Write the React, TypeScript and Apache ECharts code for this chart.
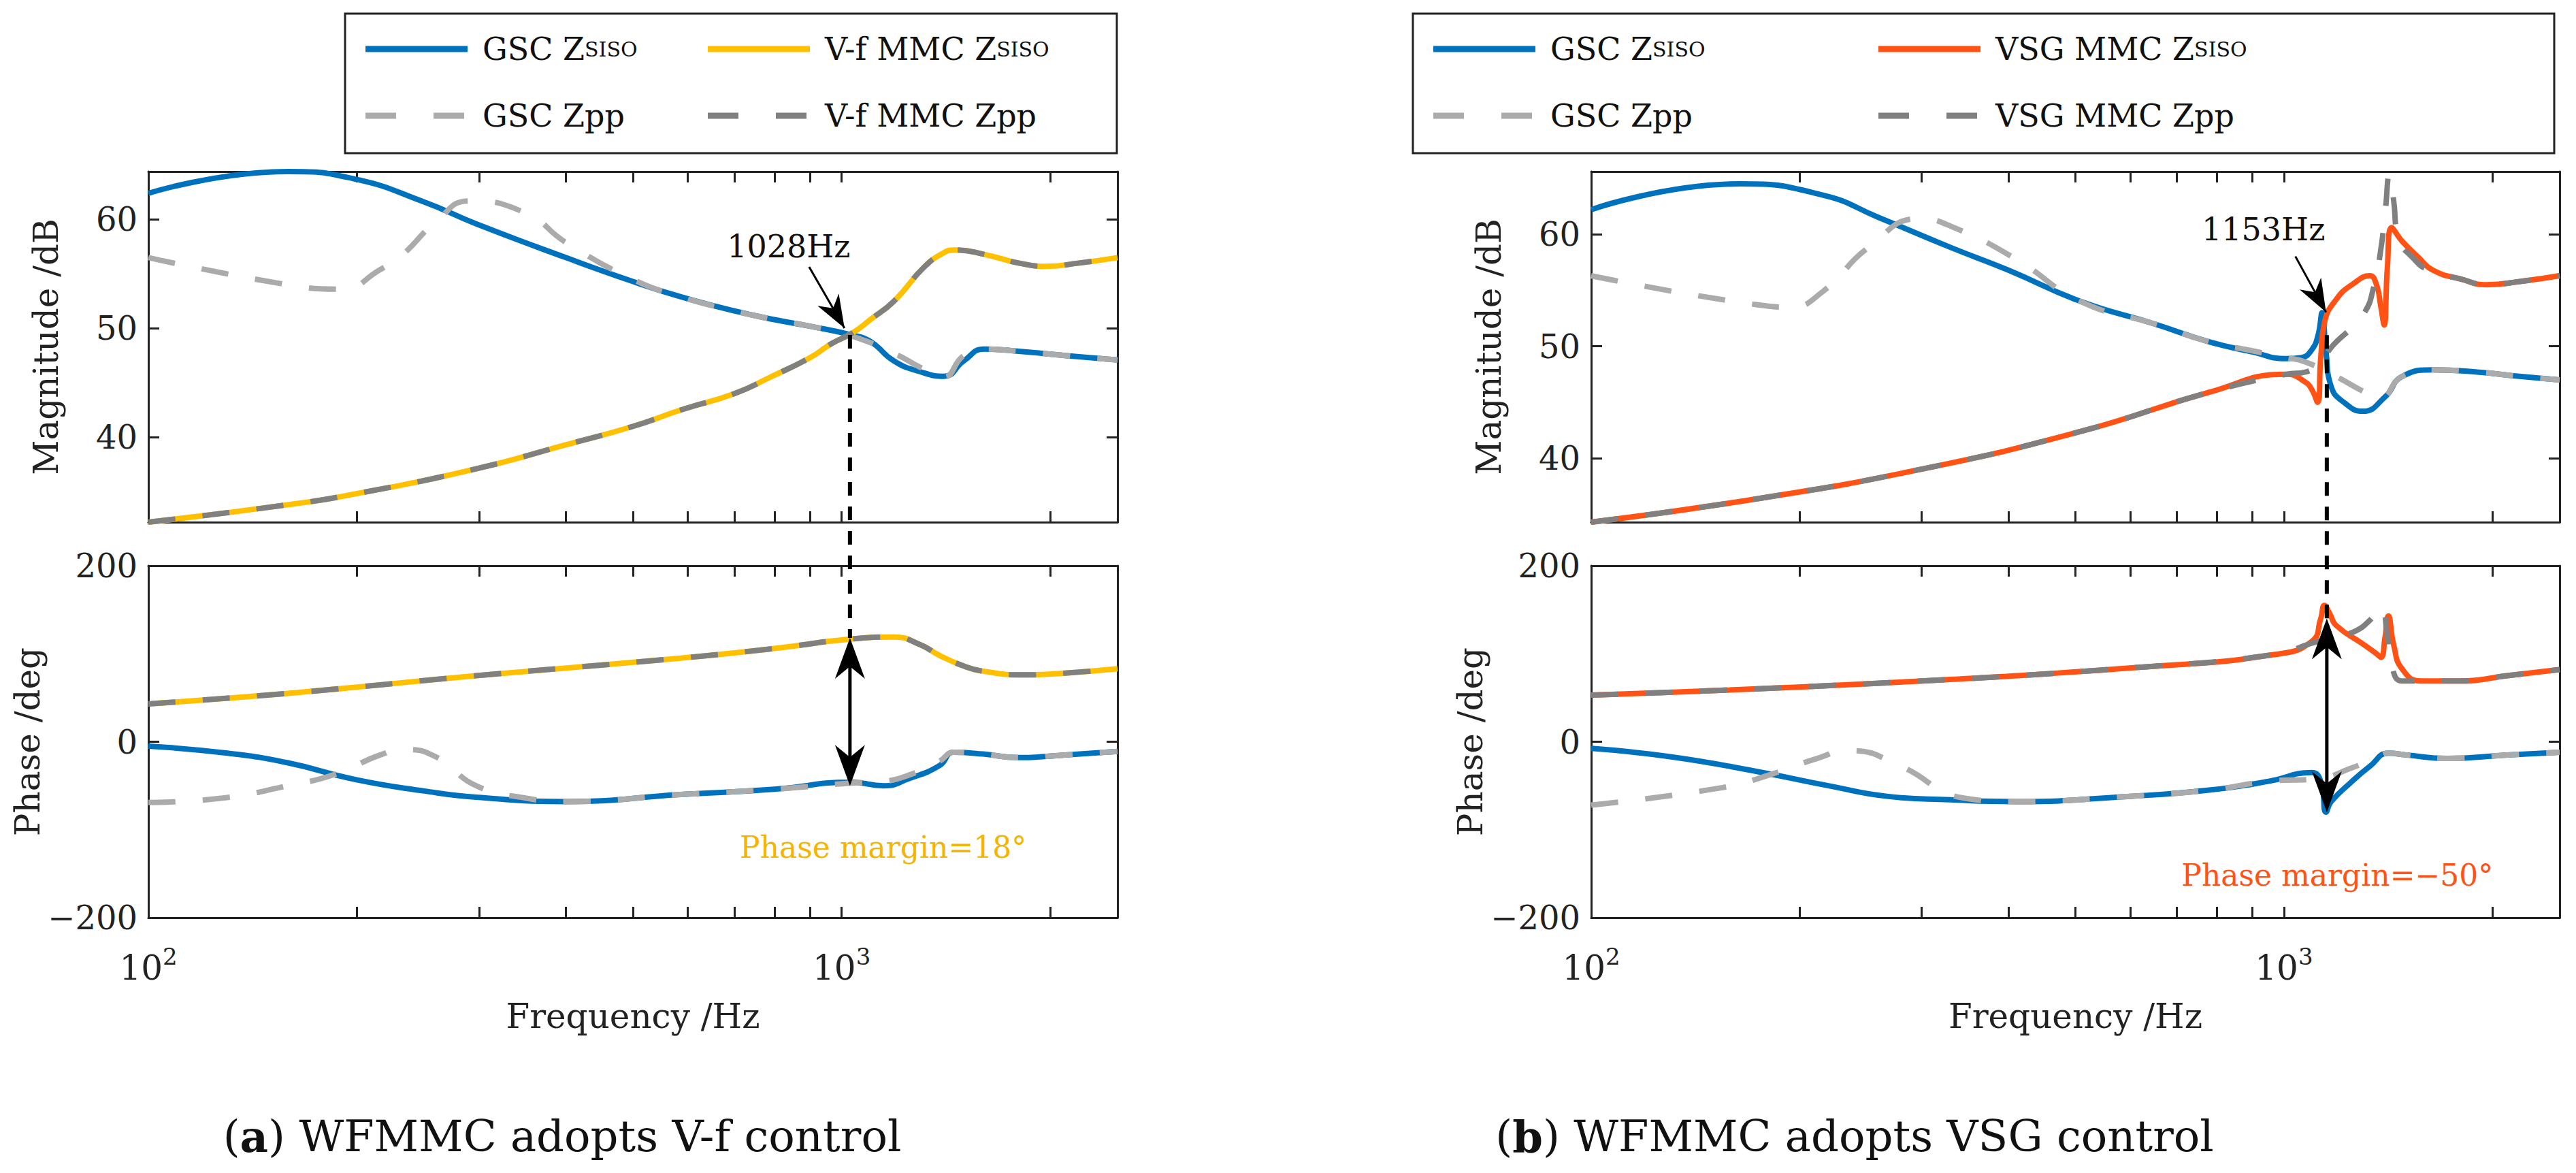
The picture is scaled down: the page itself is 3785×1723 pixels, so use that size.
import React, { useEffect, useRef } from "react";
import * as echarts from "echarts";

const FONT = "DejaVu Serif";
const xTickValues = [100, 200, 300, 400, 500, 600, 700, 800, 900, 1000, 2000];
const xLabelValues = [100, 1000];
const magTicks = [40, 50, 60];

// Left (a)
const aGscMagF = [100, 159, 199, 250, 297, 400, 500, 586, 700, 800, 900, 1033, 1100, 1190, 1300, 1405, 1500, 1605, 1800, 2100, 2500];
const aGscMagV = [62.4, 64.4, 63.7, 61.6, 59.6, 56.5, 54.3, 52.9, 51.6, 50.8, 50.2, 49.4, 48.8, 47.0, 46.0, 45.6, 47.0, 48.1, 47.9, 47.5, 47.1];
const aGscZppMagF = [100, 159, 190, 216, 232, 260, 290, 350, 400, 500, 586, 700, 800, 900, 1033, 1200, 1300, 1400, 1500, 1605, 1800, 2100, 2500];
const aGscZppMagV = [56.5, 54.0, 53.6, 55.4, 56.7, 59.8, 61.7, 60.6, 57.9, 54.5, 52.9, 51.6, 50.8, 50.2, 49.3, 47.6, 46.4, 45.5, 47.5, 48.1, 47.9, 47.5, 47.1];
const aMmcMagF = [100, 159, 199, 297, 400, 500, 586, 700, 794, 900, 967, 1038, 1100, 1190, 1314, 1400, 1456, 1605, 1800, 1970, 2200, 2500];
const aMmcMagV = [32.2, 33.8, 34.8, 37.1, 39.3, 41.0, 42.5, 44.0, 45.6, 47.3, 48.6, 49.6, 50.8, 52.5, 55.6, 56.9, 57.2, 56.8, 56.0, 55.7, 56.0, 56.5];
const aMmcPhF = [100, 159, 297, 586, 800, 1041, 1190, 1300, 1385, 1500, 1605, 1827, 2100, 2500];
const aMmcPhV = [43, 55, 75, 95, 106, 117, 119, 110, 98, 86, 80, 76, 78, 83];
const aGscPhF = [100, 130, 159, 199, 250, 297, 400, 586, 800, 1033, 1150, 1250, 1385, 1450, 1600, 1800, 2100, 2500];
const aGscPhV = [-5, -13, -24, -43, -56, -63, -68, -60, -54, -46, -50, -42, -27, -12, -14, -18, -15, -11];
const aGscZppPhF = [100, 128, 159, 186, 216, 235, 261, 297, 350, 400, 586, 800, 1033, 1150, 1250, 1385, 1450, 1600, 1800, 2100, 2500];
const aGscZppPhV = [-69, -64, -50, -37, -15, -9, -18, -50, -64, -68, -60, -54, -47, -45, -38, -22, -12, -14, -18, -15, -11];

// Right (b)
const bGscMagF = [100, 164, 216, 260, 331, 400, 509, 650, 780, 900, 1006, 1060, 1097, 1120, 1135, 1150, 1170, 1220, 1300, 1400, 1480, 1640, 1900, 2200, 2500];
const bGscMagV = [62.2, 64.5, 63.5, 61.5, 58.8, 56.8, 54.0, 52.0, 50.4, 49.5, 48.9, 49.0, 49.7, 51.0, 53.0, 49.5, 46.4, 45.0, 44.2, 45.5, 47.3, 47.9, 47.7, 47.3, 47.0];
const bGscZppMagF = [100, 174, 194, 216, 251, 298, 331, 410, 509, 650, 780, 900, 1006, 1074, 1190, 1300, 1375, 1480, 1640, 1900, 2200, 2500];
const bGscZppMagV = [56.3, 53.7, 53.5, 54.9, 58.8, 61.4, 60.7, 57.8, 54.0, 52.0, 50.4, 49.6, 49.0, 48.6, 47.3, 46.0, 45.4, 47.3, 47.9, 47.7, 47.3, 47.0];
const bMmcMagF = [100, 174, 298, 509, 780, 1006, 1074, 1100, 1118, 1130, 1144, 1190, 1260, 1330, 1360, 1380, 1395, 1410, 1430, 1480, 1560, 1640, 1800, 1960, 2200, 2500];
const bMmcMagV = [34.3, 36.4, 39.0, 42.4, 45.9, 47.5, 46.8, 46.0, 45.0, 49.0, 52.1, 54.2, 55.6, 56.3, 55.5, 53.5, 51.9, 57.0, 60.6, 59.4, 58.0, 56.8, 56.0, 55.5, 55.8, 56.3];
const bMmcZppMagF = [100, 174, 298, 509, 780, 1006, 1074, 1190, 1300, 1350, 1380, 1400, 1420, 1440, 1460, 1540, 1620, 1800, 1960, 2200, 2500];
const bMmcZppMagV = [34.3, 36.4, 39.0, 42.4, 45.9, 47.5, 47.7, 50.4, 52.8, 55.5, 58.7, 62.0, 65.3, 63.0, 59.8, 57.8, 56.8, 56.0, 55.5, 55.8, 56.3];
const bMmcPhF = [100, 267, 628, 967, 1097, 1130, 1144, 1165, 1190, 1300, 1360, 1380, 1400, 1415, 1440, 1480, 1576, 1800, 2100, 2500];
const bMmcPhV = [53, 67, 85, 99, 114, 140, 155, 145, 132, 111, 100, 96, 120, 143, 110, 83, 69, 69, 75, 82];
const bMmcZppPhF = [100, 267, 628, 967, 1097, 1120, 1200, 1270, 1330, 1380, 1410, 1430, 1480, 1576, 1800, 2100, 2500];
const bMmcZppPhV = [53, 67, 85, 99, 112, 114, 120, 126, 138, 153, 120, 87, 69, 69, 69, 75, 82];
const bGscPhF = [100, 130, 174, 220, 267, 330, 410, 600, 780, 950, 1097, 1130, 1150, 1170, 1250, 1330, 1415, 1500, 1720, 2100, 2500];
const bGscPhV = [-7.5, -17, -34, -50, -62, -66, -68, -62, -55, -45, -35, -45, -80, -68, -46, -28, -13, -15, -19, -15, -12];
const bGscZppPhF = [100, 155, 182, 210, 236, 280, 345, 410, 600, 780, 950, 1120, 1250, 1360, 1415, 1500, 1720, 2100, 2500];
const bGscZppPhV = [-72, -52, -37, -20, -10, -28, -64, -68, -62, -55, -45, -42, -30, -18, -13, -15, -19, -15, -12];

const BLUE = "#0072BD";
const YELLOW = "#FFC000";
const ORANGE = "#FF5214";
const LGRAY = "#ABABAB";
const DGRAY = "#808080";

const zip = (f: number[], v: number[]) => f.map((x, i) => [x, v[i]]);

function line(f: number[], v: number[], g: number, color: string, dashed: boolean, z: number) {
  return {
    type: "line",
    data: zip(f, v),
    xAxisIndex: 2 * g,
    yAxisIndex: 2 * g,
    showSymbol: false,
    symbol: "none",
    smooth: 0.5,
    z,
    lineStyle: { color, width: 8, type: dashed ? [40, 40] : "solid", cap: "butt" },
  };
}

const GRID_X = [
  { left: 218, width: 1424 },
  { left: 2338, width: 1423 },
];
const GRID_Y = [
  { top: 252, height: 515 },
  { top: 831, height: 517 },
];

const axisColor = "#222";

function xAxes(g: number, labels: boolean) {
  const base = {
    type: "log",
    logBase: 10,
    min: 100,
    max: 2500,
    gridIndex: g,
    splitLine: { show: false },
    axisLine: { onZero: false, lineStyle: { color: axisColor, width: 3 } },
    axisTick: { inside: true, length: 16, customValues: xTickValues, lineStyle: { color: axisColor, width: 3 } },
  };
  return [
    {
      ...base,
      position: "bottom",
      name: labels ? "Frequency /Hz" : "",
      nameLocation: "middle",
      nameGap: 120,
      nameTextStyle: { fontFamily: FONT, fontSize: 50, color: "#222" },
      axisLabel: {
        show: labels,
        customValues: xLabelValues,
        margin: 40,
        formatter: (v: number) => `{b|10}{s|${Math.round(Math.log10(v))}}`,
        rich: {
          b: { fontFamily: FONT, fontSize: 50, color: "#222" },
          s: { fontFamily: FONT, fontSize: 34, color: "#222", verticalAlign: "bottom", padding: [0, 0, 34, 0] },
        },
      },
    },
    { ...base, position: "top", axisLabel: { show: false } },
  ];
}

function yAxes(g: number, kind: "mag" | "ph", min: number, max: number) {
  const tickProps = kind === "mag" ? { customValues: magTicks } : {};
  const base: any = {
    type: "value",
    gridIndex: g,
    min,
    max,
    splitLine: { show: false },
    axisLine: { show: true, onZero: false, lineStyle: { color: axisColor, width: 3 } },
    axisTick: { inside: true, length: 16, lineStyle: { color: axisColor, width: 3 }, ...tickProps },
  };
  if (kind === "ph") base.interval = 200;
  return [
    {
      ...base,
      position: "left",
      name: kind === "mag" ? "Magnitude /dB" : "Phase /deg",
      nameLocation: "middle",
      nameGap: kind === "mag" ? 125 : 150,
      nameTextStyle: { fontFamily: FONT, fontSize: 50, color: "#222" },
      axisLabel: {
        show: true,
        margin: 16,
        ...tickProps,
        fontFamily: FONT,
        fontSize: 48,
        color: "#222",
        formatter: (v: number) => (v < 0 ? "\u2212" + Math.abs(v) : String(v)),
      },
    },
    { ...base, position: "right", axisLabel: { show: false } },
  ];
}

function arrowHead(tip: number[], from: number[], len: number, half: number, color = "#000") {
  const dx = tip[0] - from[0];
  const dy = tip[1] - from[1];
  const d = Math.hypot(dx, dy) || 1;
  const ux = dx / d, uy = dy / d;
  const bx = tip[0] - ux * len, by = tip[1] - uy * len;
  const mx = tip[0] - ux * len * 0.7, my = tip[1] - uy * len * 0.7;
  return {
    type: "polygon",
    z: 100,
    shape: {
      points: [tip, [bx - uy * half, by + ux * half], [mx, my], [bx + uy * half, by - ux * half]],
    },
    style: { fill: color },
  };
}

function legendGraphic(x0: number, x1: number, col2Line: number, labels: string[][], solidColor2: string) {
  const y1 = 72, y2 = 170;
  const items: any[] = [
    { type: "rect", shape: { x: x0, y: 20, width: x1 - x0, height: 205 }, style: { fill: "#fff", stroke: "#222", lineWidth: 3 }, z: 90 },
  ];
  const col1 = x0 + 30;
  const rows = [
    { y: y1, x: col1, color: BLUE, dash: false, text: labels[0] },
    { y: y1, x: col2Line, color: solidColor2, dash: false, text: labels[1] },
    { y: y2, x: col1, color: LGRAY, dash: true, text: labels[2] },
    { y: y2, x: col2Line, color: DGRAY, dash: true, text: labels[3] },
  ];
  rows.forEach((r) => {
    items.push({
      type: "line",
      z: 95,
      shape: { x1: r.x, y1: r.y, x2: r.x + 150, y2: r.y },
      style: { stroke: r.color, lineWidth: 9, lineDash: r.dash ? [45, 55] : null },
    });
    items.push({
      type: "text",
      z: 95,
      x: r.x + 172,
      y: r.y,
      style: {
        text: r.text[1] ? `{m|${r.text[0]}}{s|${r.text[1]}}` : `{m|${r.text[0]}}`,
        verticalAlign: "middle",
        rich: {
          m: { fontFamily: FONT, fontSize: 46, fill: "#111" },
          s: { fontFamily: FONT, fontSize: 30, fill: "#111" },
        },
      },
    });
  });
  return items;
}

export default function App() {
  const ref = useRef<HTMLDivElement>(null);
  useEffect(() => {
    document.body.style.margin = "0";
    const chart = echarts.init(ref.current!, null, { renderer: "svg" });
    const grids = [
      { ...GRID_X[0], ...GRID_Y[0] },
      { ...GRID_X[0], ...GRID_Y[1] },
      { ...GRID_X[1], ...GRID_Y[0] },
      { ...GRID_X[1], ...GRID_Y[1] },
    ];
    const series = [
      line(aGscMagF, aGscMagV, 0, BLUE, false, 2),
      line(aGscZppMagF, aGscZppMagV, 0, LGRAY, true, 3),
      line(aMmcMagF, aMmcMagV, 0, YELLOW, false, 4),
      line(aMmcMagF, aMmcMagV, 0, DGRAY, true, 5),
      line(aGscPhF, aGscPhV, 1, BLUE, false, 2),
      line(aGscZppPhF, aGscZppPhV, 1, LGRAY, true, 3),
      line(aMmcPhF, aMmcPhV, 1, YELLOW, false, 4),
      line(aMmcPhF, aMmcPhV, 1, DGRAY, true, 5),
      line(bGscMagF, bGscMagV, 2, BLUE, false, 2),
      line(bGscZppMagF, bGscZppMagV, 2, LGRAY, true, 3),
      line(bMmcMagF, bMmcMagV, 2, ORANGE, false, 4),
      line(bMmcZppMagF, bMmcZppMagV, 2, DGRAY, true, 5),
      line(bGscPhF, bGscPhV, 3, BLUE, false, 2),
      line(bGscZppPhF, bGscZppPhV, 3, LGRAY, true, 3),
      line(bMmcPhF, bMmcPhV, 3, ORANGE, false, 4),
      line(bMmcZppPhF, bMmcZppPhV, 3, DGRAY, true, 5),
    ];
    chart.setOption({
      animation: false,
      backgroundColor: "#fff",
      grid: grids,
      xAxis: [...xAxes(0, false), ...xAxes(1, true), ...xAxes(2, false), ...xAxes(3, true)],
      yAxis: [
        ...yAxes(0, "mag", 32.2, 64.4),
        ...yAxes(1, "ph", -200, 200),
        ...yAxes(2, "mag", 34.3, 65.6),
        ...yAxes(3, "ph", -200, 200),
      ],
      series,
    });

    const P = (si: number, p: number[]) => chart.convertToPixel({ seriesIndex: si }, p) as number[];
    const g: any[] = [];
    const aA = P(0, [1028, 49.4]);
    const aB = P(4, [1028, 118]);
    const aC = P(4, [1028, -50]);
    const bA = P(8, [1153, 51]);
    const bArrowTip = P(8, [1150, 52.8]);
    const bB = P(12, [1153, 140]);
    const bC = P(12, [1153, -80]);
    [[aA, aB], [bA, bB]].forEach(([s, e]) => {
      g.push({ type: "line", z: 100, shape: { x1: s[0], y1: s[1], x2: e[0], y2: e[1] }, style: { stroke: "#000", lineWidth: 6, lineDash: [20, 16] } });
    });
    [[aB, aC], [bB, bC]].forEach(([s, e]) => {
      g.push({ type: "line", z: 100, shape: { x1: s[0], y1: s[1] + 30, x2: e[0], y2: e[1] - 30 }, style: { stroke: "#000", lineWidth: 5 } });
      g.push(arrowHead(s, [s[0], s[1] + 10], 60, 22));
      g.push(arrowHead(e, [e[0], e[1] - 10], 60, 22));
    });
    const aTip = [aA[0] - 8, aA[1] - 10];
    const aTail = [aA[0] - 60, aA[1] - 100];
    g.push({ type: "line", z: 100, shape: { x1: aTail[0], y1: aTail[1], x2: aTip[0], y2: aTip[1] }, style: { stroke: "#000", lineWidth: 3 } });
    g.push(arrowHead(aTip, aTail, 48, 18));
    g.push({ type: "text", z: 100, x: aA[0] - 90, y: aA[1] - 130, style: { text: "1028Hz", fontFamily: FONT, fontSize: 46, fill: "#111", align: "center", verticalAlign: "middle" } });
    const bTip = [bArrowTip[0], bArrowTip[1] - 4];
    const bTail = [bTip[0] - 45, bTip[1] - 82];
    g.push({ type: "line", z: 100, shape: { x1: bTail[0], y1: bTail[1], x2: bTip[0], y2: bTip[1] }, style: { stroke: "#000", lineWidth: 3 } });
    g.push(arrowHead(bTip, bTail, 48, 18));
    g.push({ type: "text", z: 100, x: bTip[0] - 92, y: bTip[1] - 122, style: { text: "1153Hz", fontFamily: FONT, fontSize: 46, fill: "#111", align: "center", verticalAlign: "middle" } });
    const aPm = P(4, [1148, -120]);
    const bPm = P(12, [1194, -152]);
    g.push({ type: "text", z: 100, x: aPm[0], y: aPm[1], style: { text: "Phase margin=18°", fontFamily: FONT, fontSize: 44, fill: "#F5B400", align: "center", verticalAlign: "middle" } });
    g.push({ type: "text", z: 100, x: bPm[0], y: bPm[1], style: { text: "Phase margin=\u221250°", fontFamily: FONT, fontSize: 44, fill: ORANGE, align: "center", verticalAlign: "middle" } });
    g.push(...legendGraphic(507, 1641, 1040, [["GSC Z", "SISO"], ["V-f MMC Z", "SISO"], ["GSC Zpp", ""], ["V-f MMC Zpp", ""]], YELLOW));
    g.push(...legendGraphic(2076, 3753, 2760, [["GSC Z", "SISO"], ["VSG MMC Z", "SISO"], ["GSC Zpp", ""], ["VSG MMC Zpp", ""]], ORANGE));
    const caption = (x: number, tag: string, rest: string) => ({
      type: "text",
      x,
      y: 1669,
      style: {
        text: `{p|(}{t|${tag}}{p|) ${rest}}`,
        align: "center",
        verticalAlign: "middle",
        rich: {
          p: { fontFamily: FONT, fontSize: 64, fill: "#111" },
          t: { fontFamily: FONT, fontSize: 64, fontWeight: "bold", fill: "#111" },
        },
      },
    });
    g.push(caption(826, "a", "WFMMC adopts V-f control"));
    g.push(caption(2725, "b", "WFMMC adopts VSG control"));
    chart.setOption({ graphic: g });
    return () => chart.dispose();
  }, []);
  return <div ref={ref} style={{ width: 3785, height: 1723 }} />;
}
